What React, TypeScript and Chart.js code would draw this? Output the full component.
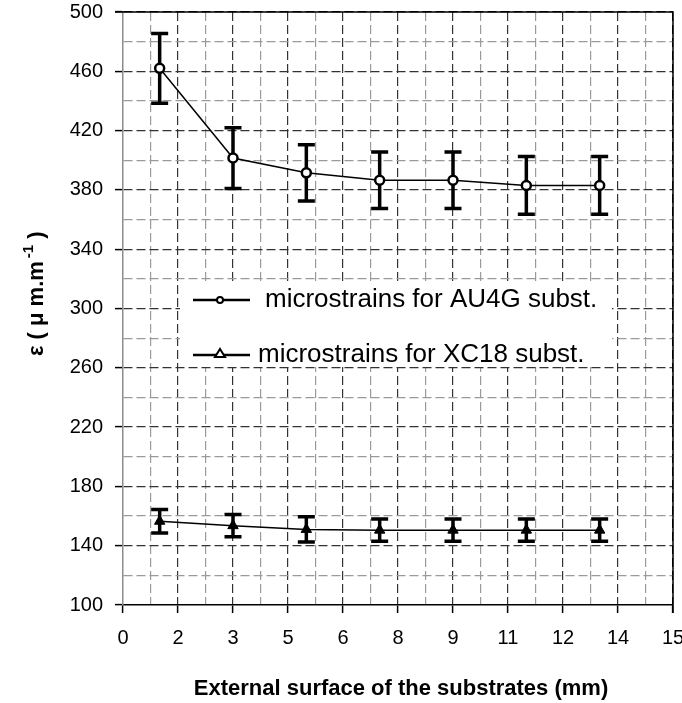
import React, { useEffect, useRef } from "react";
import { Chart, registerables } from "chart.js";

Chart.register(...registerables);

const FONT = '"Liberation Sans", Arial, Helvetica, sans-serif';

const xValues = [1, 3, 5, 7, 9, 11, 13];
const au4gValues = [462, 401.5, 391.5, 386.5, 386.5, 383, 383];
const au4gErrors = [23.5, 20.5, 19, 19, 19, 19.5, 19.5];
const xc18Values = [156.5, 153.5, 151, 150.5, 150.5, 150.5, 150.5];
const xc18Errors = [8, 7.5, 8.5, 7.5, 7.5, 7.5, 7.5];

const xTickLabels = ["0", "2", "3", "5", "6", "8", "9", "11", "12", "14", "15"];
const yTickLabels = ["100", "140", "180", "220", "260", "300", "340", "380", "420", "460", "500"];

const seriesLabels = ["microstrains for AU4G subst.", "microstrains for XC18 subst."];
const xAxisTitle = "External surface of the substrates (mm)";
const yAxisTitleMain = "ε ( μ m.m";
const yAxisTitleSup = "-1";
const yAxisTitleEnd = " )";

const MAJOR = "#333333";
const MINOR = "#9a9a9a";
const CLEAR = "rgba(0,0,0,0)";

const customPlugin = {
  id: "customDraw",
  beforeDatasetsDraw(chart: any) {
    const ctx = chart.ctx;
    const xs = chart.scales.x;
    const ys = chart.scales.y;
    const sets = [
      { v: au4gValues, e: au4gErrors },
      { v: xc18Values, e: xc18Errors },
    ];
    ctx.save();
    ctx.strokeStyle = "#000";
    ctx.lineWidth = 3.5;
    ctx.lineCap = "butt";
    sets.forEach((s) => {
      xValues.forEach((xv, i) => {
        const px = xs.getPixelForValue(xv);
        const top = ys.getPixelForValue(s.v[i] + s.e[i]);
        const bot = ys.getPixelForValue(s.v[i] - s.e[i]);
        ctx.beginPath();
        ctx.moveTo(px, top);
        ctx.lineTo(px, bot);
        ctx.moveTo(px - 8.5, top);
        ctx.lineTo(px + 8.5, top);
        ctx.moveTo(px - 8.5, bot);
        ctx.lineTo(px + 8.5, bot);
        ctx.stroke();
      });
    });
    ctx.restore();
  },
  afterDatasetsDraw(chart: any) {
    const ctx = chart.ctx;
    const a = chart.chartArea;
    ctx.save();
    // top and right frame
    ctx.strokeStyle = "#000";
    ctx.lineWidth = 1.5;
    ctx.setLineDash([]);
    ctx.beginPath();
    ctx.moveTo(a.left - 8, a.top);
    ctx.lineTo(a.right, a.top);
    ctx.lineTo(a.right, a.bottom + 8);
    ctx.stroke();

    // legend
    ctx.fillStyle = "#fff";
    ctx.fillRect(180, 282, 432, 85);
    ctx.strokeStyle = "#000";
    ctx.lineWidth = 2.5;
    ctx.beginPath();
    ctx.moveTo(193, 300);
    ctx.lineTo(250, 300);
    ctx.moveTo(193, 355);
    ctx.lineTo(250, 355);
    ctx.stroke();
    ctx.lineWidth = 2;
    ctx.beginPath();
    ctx.arc(220, 300, 3, 0, Math.PI * 2);
    ctx.fillStyle = "#fff";
    ctx.fill();
    ctx.stroke();
    ctx.beginPath();
    ctx.moveTo(220, 349);
    ctx.lineTo(225, 357);
    ctx.lineTo(215, 357);
    ctx.closePath();
    ctx.fill();
    ctx.stroke();

    ctx.fillStyle = "#000";
    ctx.font = `26px ${FONT}`;
    ctx.textAlign = "left";
    ctx.textBaseline = "alphabetic";
    ctx.fillText(seriesLabels[0], 265, 307);
    ctx.fillText(seriesLabels[1], 258, 362);
    ctx.restore();
  },
  afterDraw(chart: any) {
    const ctx = chart.ctx;
    ctx.save();
    ctx.fillStyle = "#000";
    ctx.font = `bold 22px ${FONT}`;
    ctx.textAlign = "center";
    ctx.textBaseline = "alphabetic";
    ctx.fillText(xAxisTitle, 401, 695);

    ctx.translate(43, 356);
    ctx.rotate(-Math.PI / 2);
    ctx.textAlign = "left";
    ctx.font = `bold 22px ${FONT}`;
    ctx.fillText(yAxisTitleMain, 0, 0);
    const w1 = ctx.measureText(yAxisTitleMain).width + 3;
    ctx.font = `bold 15px ${FONT}`;
    ctx.fillText(yAxisTitleSup, w1, -10);
    const w2 = ctx.measureText(yAxisTitleSup).width;
    ctx.font = `bold 22px ${FONT}`;
    ctx.fillText(yAxisTitleEnd, w1 + w2, 0);
    ctx.restore();
  },
};

export default function App() {
  const canvasRef = useRef<HTMLCanvasElement | null>(null);

  useEffect(() => {
    if (!canvasRef.current) return;
    const chart = new Chart(canvasRef.current, {
      type: "line",
      data: {
        datasets: [
          {
            label: seriesLabels[0],
            data: xValues.map((x, i) => ({ x, y: au4gValues[i] })),
            borderColor: "#000",
            borderWidth: 1.5,
            pointStyle: "circle",
            pointRadius: 4.5,
            pointBorderWidth: 2.5,
            pointBackgroundColor: "#fff",
            pointBorderColor: "#000",
            tension: 0,
          },
          {
            label: seriesLabels[1],
            data: xValues.map((x, i) => ({ x, y: xc18Values[i] })),
            borderColor: "#000",
            borderWidth: 1.5,
            pointStyle: "triangle",
            pointRadius: 6,
            pointBorderWidth: 1,
            pointBackgroundColor: "#000",
            pointBorderColor: "#000",
            tension: 0,
          },
        ],
      },
      options: {
        animation: false,
        responsive: false,
        layout: { padding: { top: 12, right: 9, left: 0, bottom: 0 } },
        plugins: { legend: { display: false }, tooltip: { enabled: false } },
        scales: {
          x: {
            type: "linear",
            min: 0,
            max: 15,
            afterFit: (s: any) => {
              s.height = 98;
              s.paddingLeft = 0;
              s.paddingRight = 0;
            },
            ticks: {
              stepSize: 0.75,
              autoSkip: false,
              maxRotation: 0,
              padding: 13,
              color: "#000",
              font: { family: FONT, size: 20 },
              callback: (_v: any, index: number) => (index % 2 === 0 ? xTickLabels[index / 2] : ""),
            },
            grid: {
              color: (c: any) => (c.index === 0 ? CLEAR : c.index === 20 ? "#000" : c.index % 2 === 0 ? MAJOR : MINOR),
              lineWidth: 1.2,
              tickLength: 8,
              tickWidth: 1.5,
              tickColor: (c: any) => (c.index % 2 === 0 ? "#000" : CLEAR),
            },
            border: {
              color: "#000",
              width: 1.5,
              dash: [9, 4],
            },
          },
          y: {
            type: "linear",
            min: 100,
            max: 500,
            afterFit: (s: any) => {
              s.width = 123;
              s.paddingTop = 0;
              s.paddingBottom = 0;
            },
            ticks: {
              stepSize: 20,
              autoSkip: false,
              padding: 12,
              color: "#000",
              font: { family: FONT, size: 20 },
              callback: (_v: any, index: number) => (index % 2 === 0 ? yTickLabels[index / 2] : ""),
            },
            grid: {
              color: (c: any) => (c.index === 0 ? CLEAR : c.index === 20 ? "#000" : c.index % 2 === 0 ? MAJOR : MINOR),
              lineWidth: 1.2,
              tickLength: 8,
              tickWidth: 1.5,
              tickColor: (c: any) => (c.index % 2 === 0 ? "#000" : CLEAR),
            },
            border: {
              color: "#8c8c8c",
              width: 1.5,
              dash: [9, 4],
            },
          },
        },
      },
      plugins: [customPlugin],
    } as any);
    return () => chart.destroy();
  }, []);

  return (
    <div style={{ position: "absolute", left: 0, top: 0, width: 682, height: 703, background: "#fff" }}>
      <canvas ref={canvasRef} width={682} height={703} style={{ display: "block", width: 682, height: 703 }} />
    </div>
  );
}
